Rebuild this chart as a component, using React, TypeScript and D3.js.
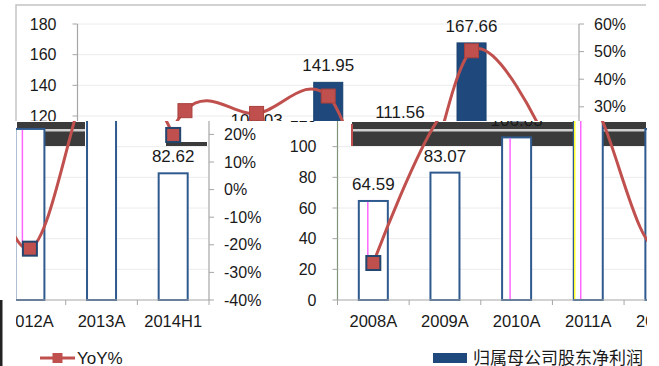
import React from 'react';
import * as d3 from 'd3';

// ---- data ----
const categories = ['2008A', '2009A', '2010A', '2011A', '2012A', '2013A', '2014H1'];
const profit = [64.59, 83.07, 106.03, 141.95, 111.56, 167.66, 82.62];
const yoy = [-26.6, 28.6, 27.6, 33.9, -21.4, 50.3, 19.8];
const leftTicks = [0, 20, 40, 60, 80, 100, 120, 140, 160, 180];
const rightTicks = [-40, -30, -20, -10, 0, 10, 20, 30, 40, 50, 60];
const barName = '归属母公司股东净利润';
const lineName = 'YoY%';

// ---- layout ----
const W = 659;
const H = 366;
const L = 77.5;
const R = 579;
const T = 24;
const B = 300;
const SPLIT_Y = 121; // where the picture tears
const SHIFT_A = 260; // horizontal shift of the lower part
const PERIOD = 630;
const SEAM_X = 276;
const LEFT_EDGE = 16;
const RIGHT_EDGE = 647;

const BAR_FILL = '#1f497d';
const LINE_COLOR = '#c0504d';
const AXIS = '#a6a6a6';
const FONT = 'Liberation Sans, Arial, sans-serif';

// glitch decoration in the tear band
const tearBlocks = [
  { x0: 17, x1: 85, y0: 122, y1: 146, striped: true },
  { x0: 166, x1: 207, y0: 142, y1: 146, striped: false },
  { x0: 352, x1: 646, y0: 122, y1: 146, striped: true },
];
const chromaLines = [
  { cat: '2008A', dx: 8, color: '#ff66ff', toPoint: true },
  { cat: '2010A', dx: 7, color: '#ff66ff', toPoint: false },
  { cat: '2011A', dx: 0, color: '#ffff33', toPoint: false },
  { cat: '2011A', dx: 6, color: '#ff66ff', toPoint: false },
  { cat: '2012A', dx: 6, color: '#ff66ff', toPoint: true },
];

function Chart({ variant }: { variant: 'top' | 'bottom' }) {
  const bottom = variant === 'bottom';
  const x = d3.scaleBand<string>().domain(categories).range([L, R]);
  const bw = x.bandwidth();
  const barW = bw * 0.405;
  const cx = (c: string) => (x(c) as number) + bw / 2;
  const yL = d3.scaleLinear().domain([0, 180]).range([B, T]);
  const yR = d3.scaleLinear().domain([-40, 60]).range([B, T]);
  const line = d3
    .line<number>()
    .x((_, i) => cx(categories[i]))
    .y((d) => yR(d))
    .curve(d3.curveCardinal.tension(0));

  const legBarX = 173;
  const legLineX = 410;
  const legY = 358;

  return (
    <g>
      {/* gridlines */}
      {leftTicks.slice(1).map((t) => (
        <line key={'g' + t} x1={L} x2={R} y1={yL(t)} y2={yL(t)} stroke="#ececec" strokeWidth={1} />
      ))}
      {/* bars */}
      {categories.map((c, i) => (
        <rect
          key={'b' + c}
          x={cx(c) - barW / 2}
          y={yL(profit[i])}
          width={barW}
          height={B - yL(profit[i])}
          fill={bottom ? '#ffffff' : BAR_FILL}
          stroke={bottom ? '#2f5a8e' : '#18406e'}
          strokeWidth={bottom ? 2 : 1}
        />
      ))}
      {bottom &&
        chromaLines.map((g, k) => {
          const i = categories.indexOf(g.cat);
          const x0 = cx(g.cat) - barW / 2 + g.dx + 1;
          const y0 = yL(profit[i]) + 1;
          const y1 = g.toPoint ? yR(yoy[i]) - 6 : B - 1;
          return <line key={'ch' + k} x1={x0} x2={x0} y1={y0} y2={y1} stroke={g.color} strokeWidth={1.5} />;
        })}
      {/* data labels */}
      {categories.map((c, i) => (
        <text
          key={'l' + c}
          x={cx(c)}
          y={yL(profit[i]) - 11}
          textAnchor="middle"
          fontSize={17}
          fontFamily={FONT}
          fill="#1a1a1a"
        >
          {profit[i].toFixed(2)}
        </text>
      ))}
      {/* axes */}
      <line x1={L} x2={L} y1={T} y2={B} stroke={bottom ? '#7f9478' : AXIS} strokeWidth={1.2} />
      {leftTicks.map((t) => (
        <g key={'lt' + t}>
          <line x1={L - 5} x2={L} y1={yL(t)} y2={yL(t)} stroke={AXIS} />
          <text x={L - 21} y={yL(t)} dy="0.35em" textAnchor="end" fontSize={16} fontFamily={FONT} fill="#1a1a1a">
            {t}
          </text>
        </g>
      ))}
      <line x1={R} x2={R} y1={T} y2={B} stroke={AXIS} strokeWidth={1.2} />
      {rightTicks.map((t) => (
        <g key={'rt' + t}>
          <line x1={R} x2={R + 5} y1={yR(t)} y2={yR(t)} stroke={AXIS} />
          <text x={R + 15} y={yR(t)} dy="0.35em" textAnchor="start" fontSize={16} fontFamily={FONT} fill="#1a1a1a">
            {t + '%'}
          </text>
        </g>
      ))}
      <line x1={L} x2={R} y1={B} y2={B} stroke={AXIS} strokeWidth={1.2} />
      {[...categories.map((c) => x(c) as number), R].map((v, k) => (
        <line key={'xt' + k} x1={v} x2={v} y1={B} y2={B + 5} stroke={AXIS} />
      ))}
      {categories.map((c) => (
        <text key={'xl' + c} x={cx(c)} y={B + 27} textAnchor="middle" fontSize={16.5} fontFamily={FONT} fill="#1a1a1a">
          {c}
        </text>
      ))}
      {/* yoy line */}
      <path d={line(yoy) || ''} fill="none" stroke={LINE_COLOR} strokeWidth={3} />
      {yoy.map((v, i) => (
        <rect
          key={'m' + i}
          x={cx(categories[i]) - 7}
          y={yR(v) - 7}
          width={14}
          height={14}
          fill={LINE_COLOR}
          stroke={bottom ? '#24466f' : '#a8403d'}
          strokeWidth={bottom ? 2 : 1}
        />
      ))}
      {/* legend */}
      <rect x={legBarX} y={legY - 5} width={34} height={10} fill={BAR_FILL} />
      <text x={legBarX + 40} y={legY + 6} fontSize={17} fontFamily="Noto Sans CJK SC, sans-serif" fill="#1a1a1a">
        {barName}
      </text>
      <line x1={legLineX} x2={legLineX + 35} y1={legY} y2={legY} stroke={LINE_COLOR} strokeWidth={3} />
      <rect x={legLineX + 12.5} y={legY - 5} width={10} height={10} fill={LINE_COLOR} />
      <text x={legLineX + 37} y={legY + 6} fontSize={17} fontFamily={FONT} fill="#1a1a1a">
        {lineName}
      </text>
    </g>
  );
}

export default function App() {
  return (
    <svg
      width={W}
      height={H}
      style={{ position: 'absolute', left: 0, top: 0, background: '#ffffff' }}
      xmlns="http://www.w3.org/2000/svg"
    >
      <defs>
        <clipPath id="clipTop">
          <rect x={0} y={0} width={W} height={SPLIT_Y} />
        </clipPath>
        <clipPath id="clipA">
          <rect x={SEAM_X} y={SPLIT_Y} width={RIGHT_EDGE - SEAM_X} height={H - SPLIT_Y} />
        </clipPath>
        <clipPath id="clipB">
          <rect x={LEFT_EDGE} y={SPLIT_Y} width={SEAM_X - LEFT_EDGE} height={H - SPLIT_Y} />
        </clipPath>
      </defs>
      <rect x={0} y={0} width={W} height={H} fill="#ffffff" />
      <g clipPath="url(#clipTop)">
        <path d={`M16,${SPLIT_Y + 2} V5 H646`} fill="none" stroke="#c4c4c4" strokeWidth={1.5} />
        <Chart variant="top" />
      </g>
      {tearBlocks.map((b, k) => (
        <g key={'tb' + k}>
          <rect x={b.x0} y={b.y0} width={b.x1 - b.x0} height={b.y1 - b.y0} fill="#3b3b3b" />
          {b.striped && <rect x={b.x0} y={b.y0 + 7} width={b.x1 - b.x0} height={2.5} fill="#d0d0d0" />}
        </g>
      ))}
      <line x1={352} x2={352} y1={124} y2={146} stroke={LINE_COLOR} strokeWidth={2} />
      <rect x={0} y={300} width={2.5} height={66} fill="#222222" />
      <g clipPath="url(#clipA)">
        <g transform={`translate(${SHIFT_A},0)`}>
          <Chart variant="bottom" />
        </g>
      </g>
      <g clipPath="url(#clipB)">
        <g transform={`translate(${SHIFT_A - PERIOD},0)`}>
          <Chart variant="bottom" />
        </g>
      </g>
    </svg>
  );
}
